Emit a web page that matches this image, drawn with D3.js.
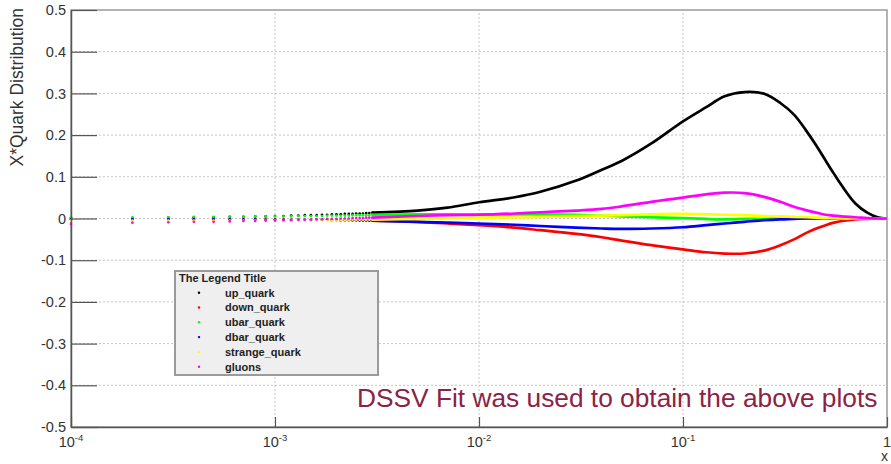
<!DOCTYPE html>
<html>
<head>
<meta charset="utf-8">
<script src="https://cdn.jsdelivr.net/npm/d3@7"></script>
<style>
  html, body { margin: 0; padding: 0; background: #ffffff; }
  svg { display: block; font-family: "Liberation Sans", Arial, Helvetica, sans-serif; }
</style>
</head>
<body>
<svg id="chart" width="891" height="464"></svg>
<script>
// ---- series metadata ----
const seriesNames  = ["up_quark", "down_quark", "ubar_quark", "dbar_quark", "strange_quark", "gluons"];
const seriesColors = ["#000000", "#ff0000", "#00ff00", "#0000ff", "#ffff00", "#ff00ff"];

// ---- low-x samples, drawn as separate markers ----
const xDots = [0.0001, 0.0002, 0.0003, 0.0004, 0.0005, 0.0006, 0.0007, 0.0008, 0.0009, 0.0010,
               0.0011, 0.0012, 0.0013, 0.0014, 0.0015, 0.0016, 0.0017, 0.0018, 0.0019, 0.0020,
               0.0021, 0.0022, 0.0023, 0.0024, 0.0025, 0.0026, 0.0027, 0.0028, 0.0029, 0.0030];
const upDots      = [0.001, 0.001, 0.002, 0.003, 0.003, 0.004, 0.004, 0.005, 0.005, 0.006,
                     0.006, 0.007, 0.007, 0.008, 0.008, 0.008, 0.009, 0.009, 0.010, 0.010,
                     0.010, 0.011, 0.011, 0.011, 0.012, 0.012, 0.012, 0.013, 0.013, 0.014];
const downDots    = [-0.001, -0.001, -0.001, -0.001, -0.001, -0.002, -0.002, -0.002, -0.002, -0.002,
                     -0.002, -0.003, -0.003, -0.003, -0.003, -0.003, -0.003, -0.003, -0.004, -0.004,
                     -0.004, -0.004, -0.004, -0.004, -0.004, -0.005, -0.005, -0.005, -0.005, -0.005];
const ubarDots    = [0.003, 0.003, 0.003, 0.004, 0.004, 0.004, 0.004, 0.005, 0.005, 0.005,
                     0.005, 0.005, 0.006, 0.006, 0.006, 0.006, 0.006, 0.007, 0.007, 0.007,
                     0.007, 0.007, 0.007, 0.008, 0.008, 0.008, 0.008, 0.008, 0.008, 0.009];
const dbarDots    = [-0.002, -0.002, -0.002, -0.002, -0.002, -0.002, -0.002, -0.002, -0.003, -0.003,
                     -0.003, -0.003, -0.003, -0.003, -0.003, -0.003, -0.003, -0.003, -0.003, -0.003,
                     -0.004, -0.004, -0.004, -0.004, -0.004, -0.004, -0.004, -0.004, -0.005, -0.005];
const strangeDots = [-0.005, -0.005, -0.005, -0.005, -0.005, -0.005, -0.005, -0.005, -0.005, -0.005,
                     -0.005, -0.004, -0.004, -0.004, -0.004, -0.004, -0.004, -0.004, -0.004, -0.004,
                     -0.004, -0.004, -0.004, -0.003, -0.003, -0.003, -0.003, -0.003, -0.003, -0.003];
const gluonDots   = [-0.013, -0.010, -0.009, -0.008, -0.008, -0.007, -0.006, -0.006, -0.005, -0.005,
                     -0.004, -0.004, -0.003, -0.003, -0.003, -0.002, -0.002, -0.001, -0.001, -0.001,
                     0.000, 0.000, 0.000, 0.001, 0.001, 0.001, 0.001, 0.002, 0.002, 0.002];

// ---- higher-x samples, where the markers merge into a continuous curve ----
const xLine = [0.003, 0.005, 0.007, 0.01, 0.015, 0.02, 0.03, 0.04, 0.05, 0.07,
               0.1, 0.13, 0.16, 0.2, 0.25, 0.3, 0.35, 0.4, 0.45, 0.5,
               0.55, 0.6, 0.7, 0.8, 0.9, 1.0];
const upLine      = [0.014, 0.019, 0.026, 0.039, 0.051, 0.064, 0.091, 0.117, 0.138, 0.180,
                     0.233, 0.267, 0.293, 0.303, 0.299, 0.277, 0.249, 0.212, 0.175, 0.139,
                     0.107, 0.079, 0.036, 0.014, 0.003, 0.000];
const downLine    = [-0.005, -0.008, -0.012, -0.016, -0.022, -0.028, -0.037, -0.045, -0.053, -0.064,
                     -0.074, -0.081, -0.084, -0.084, -0.077, -0.064, -0.050, -0.035, -0.024, -0.016,
                     -0.010, -0.006, -0.002, -0.001, 0.000, 0.000];
const ubarLine    = [0.009, 0.010, 0.010, 0.010, 0.010, 0.010, 0.009, 0.007, 0.005, 0.003,
                     0.001, -0.001, -0.002, -0.001, -0.001, 0.000, 0.000, 0.000, 0.000, 0.000,
                     0.000, 0.000, 0.000, 0.000, 0.000, 0.000];
const dbarLine    = [-0.005, -0.008, -0.010, -0.012, -0.015, -0.018, -0.022, -0.024, -0.025, -0.024,
                     -0.021, -0.016, -0.012, -0.008, -0.004, -0.002, -0.001, 0.000, 0.000, 0.000,
                     0.000, 0.000, 0.000, 0.000, 0.000, 0.000];
const strangeLine = [-0.003, -0.001, 0.000, 0.002, 0.003, 0.004, 0.006, 0.007, 0.008, 0.010,
                     0.011, 0.010, 0.009, 0.008, 0.006, 0.005, 0.004, 0.003, 0.002, 0.001,
                     0.001, 0.000, 0.000, 0.000, 0.000, 0.000];
const gluonLine   = [0.002, 0.006, 0.008, 0.009, 0.012, 0.015, 0.019, 0.023, 0.029, 0.040,
                     0.050, 0.058, 0.062, 0.061, 0.052, 0.040, 0.028, 0.020, 0.014, 0.009,
                     0.007, 0.005, 0.003, 0.001, 0.000, 0.000];

// ---- axis tick labels ----
const yTickValues = [-0.5, -0.4, -0.3, -0.2, -0.1, 0, 0.1, 0.2, 0.3, 0.4, 0.5];
const yTickLabels = ["-0.5", "-0.4", "-0.3", "-0.2", "-0.1", "0", "0.1", "0.2", "0.3", "0.4", "0.5"];
const xTickValues = [1e-4, 1e-3, 1e-2, 1e-1, 1];
const xTickBases  = ["10", "10", "10", "10", "1"];
const xTickExps   = ["-4", "-3", "-2", "-1", ""];

const yTitle = "X*Quark Distribution";
const xTitle = "x";
const legendTitle = "The Legend Title";
const noteText = "DSSV Fit was used to obtain the above plots";

const dotSeries  = [upDots, downDots, ubarDots, dbarDots, strangeDots, gluonDots];
const lineSeries = [upLine, downLine, ubarLine, dbarLine, strangeLine, gluonLine];

// ---- drawing ----
const svg = d3.select("#chart");
const x = d3.scaleLog().domain([1e-4, 1]).range([71, 887]);
const y = d3.scaleLinear().domain([-0.5, 0.5]).range([427, 10]);

const axisColor = "#555555";
const gridColor = "#c4c4c4";

// grid
const grid = svg.append("g");
grid.selectAll("line.h")
  .data(yTickValues.filter(v => Math.abs(v) < 0.5))
  .join("line")
  .attr("x1", x.range()[0]).attr("x2", x.range()[1])
  .attr("y1", d => y(d)).attr("y2", d => y(d))
  .attr("stroke", gridColor).attr("stroke-width", 1).attr("stroke-dasharray", "2,2");
grid.selectAll("line.v")
  .data(xTickValues.filter(v => v > 1e-4 && v < 1))
  .join("line")
  .attr("x1", d => x(d)).attr("x2", d => x(d))
  .attr("y1", y.range()[0]).attr("y2", y.range()[1])
  .attr("stroke", gridColor).attr("stroke-width", 1).attr("stroke-dasharray", "2,2");

// frame
svg.append("rect")
  .attr("x", x.range()[0]).attr("y", y.range()[1])
  .attr("width", x.range()[1] - x.range()[0])
  .attr("height", y.range()[0] - y.range()[1])
  .attr("fill", "none").attr("stroke", "#9a9a9a").attr("stroke-width", 1.5);

// data
const plot = svg.append("g");
const lineGen = d3.line()
  .x(d => x(d[0])).y(d => y(d[1]))
  .curve(d3.curveCatmullRom.alpha(0.5));

seriesNames.forEach((name, i) => {
  const g = plot.append("g").attr("class", "series-" + name);
  g.selectAll("circle")
    .data(xDots.map((xv, j) => [xv, dotSeries[i][j]]))
    .join("circle")
    .attr("cx", d => x(d[0])).attr("cy", d => y(d[1]))
    .attr("r", 1.35)
    .attr("fill", seriesColors[i]);
  g.append("path")
    .datum(xLine.map((xv, j) => [xv, lineSeries[i][j]]))
    .attr("d", lineGen)
    .attr("fill", "none")
    .attr("stroke", seriesColors[i])
    .attr("stroke-width", 2.7)
    .attr("stroke-linejoin", "round");
});

// y axis: major and minor ticks pointing into the frame
const yMinor = y.ticks(50).filter(v => Math.abs(Math.round(v * 10) - v * 10) > 1e-6);
const yAxisG = svg.append("g").attr("transform", `translate(${x.range()[0]},0)`);
yAxisG.call(d3.axisLeft(y).tickValues(yMinor).tickSize(-14).tickSizeOuter(0).tickFormat(""));
yAxisG.call(d3.axisLeft(y).tickValues(yTickValues).tickSize(-26).tickSizeOuter(0).tickPadding(5)
  .tickFormat((d, i) => yTickLabels[i]));
yAxisG.selectAll("path.domain").attr("stroke", axisColor).attr("stroke-width", 1.5);
yAxisG.selectAll(".tick line").attr("stroke", axisColor).attr("stroke-width", 1.2);
yAxisG.selectAll(".tick text")
  .attr("fill", "#333333").attr("font-size", 14.5)
  .attr("font-family", "'Liberation Sans', Arial, sans-serif");

// x axis
const xMinor = x.ticks().filter(v => Math.abs(Math.log10(v) - Math.round(Math.log10(v))) > 1e-6);
const xAxisG = svg.append("g").attr("transform", `translate(0,${y.range()[0]})`);
xAxisG.call(d3.axisBottom(x).tickValues(xMinor).tickSize(-5).tickSizeOuter(0).tickFormat(""));
xAxisG.call(d3.axisBottom(x).tickValues(xTickValues).tickSize(-10).tickSizeOuter(0).tickFormat(""));
xAxisG.selectAll("path.domain").attr("stroke", axisColor).attr("stroke-width", 1.5);
xAxisG.selectAll(".tick line").attr("stroke", axisColor).attr("stroke-width", 1.2);

const xLabels = svg.append("g")
  .attr("font-size", 14.5).attr("fill", "#333333").attr("text-anchor", "middle");
xTickValues.forEach((v, i) => {
  const t = xLabels.append("text").attr("x", x(v)).attr("y", 447);
  t.append("tspan").text(xTickBases[i]);
  if (xTickExps[i]) {
    t.append("tspan").attr("font-size", 9.5).attr("dy", -6).text(xTickExps[i]);
  }
});

// axis titles
svg.append("text")
  .attr("transform", `translate(23,8) rotate(-90)`)
  .attr("text-anchor", "end")
  .attr("font-size", 17.5).attr("fill", "#333333")
  .text(yTitle);
svg.append("text")
  .attr("x", 888).attr("y", 461)
  .attr("text-anchor", "end")
  .attr("font-size", 14).attr("fill", "#333333")
  .text(xTitle);

// legend
const legend = svg.append("g");
legend.append("rect")
  .attr("x", 175).attr("y", 271).attr("width", 203).attr("height", 104)
  .attr("fill", "#efefef").attr("stroke", "#9a9a9a").attr("stroke-width", 2);
legend.append("text")
  .attr("x", 179).attr("y", 281.5)
  .attr("font-size", 11).attr("font-weight", "bold").attr("fill", "#222222")
  .text(legendTitle);
const rows = legend.selectAll("g.row")
  .data(seriesNames)
  .join("g")
  .attr("transform", (d, i) => `translate(0,${296.5 + i * 14.8})`);
rows.append("circle")
  .attr("cx", 199).attr("cy", -3.8).attr("r", 1.2)
  .attr("fill", (d, i) => seriesColors[i]);
rows.append("text")
  .attr("x", 225).attr("y", 0)
  .attr("font-size", 11).attr("font-weight", "bold").attr("fill", "#222222")
  .text(d => d);

// footnote inside the frame
svg.append("text")
  .attr("x", 357).attr("y", 406.5)
  .attr("font-size", 26.3).attr("fill", "#8b2346")
  .text(noteText);
</script>
</body>
</html>
